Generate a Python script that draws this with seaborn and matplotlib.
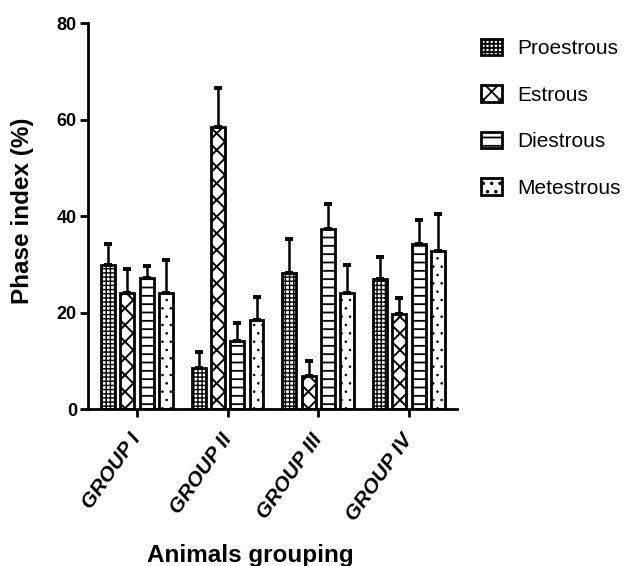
import pandas as pd
import matplotlib
matplotlib.use('Agg')
import matplotlib.pyplot as plt
import seaborn as sns

# Values (mean and upper error, %)
groups = ['GROUP I', 'GROUP II', 'GROUP III', 'GROUP IV']
phases = ['Proestrous', 'Estrous', 'Diestrous', 'Metestrous']
proestrous = [29.8, 8.5, 28.3, 26.9]
estrous = [24.1, 58.4, 6.9, 19.8]
diestrous = [27.1, 14.1, 37.4, 34.2]
metestrous = [24.1, 18.4, 24.1, 32.8]
proestrous_err = [4.4, 3.4, 6.9, 4.7]
estrous_err = [4.9, 8.1, 3.1, 3.3]
diestrous_err = [2.5, 3.8, 5.2, 5.1]
metestrous_err = [6.8, 4.9, 5.7, 7.6]

means = [proestrous, estrous, diestrous, metestrous]
errs = [proestrous_err, estrous_err, diestrous_err, metestrous_err]
hatches = ['++++', 'xx', '--', '..']
hatch_lw = [1.0, 1.4, 1.3, 0.6]

rows = []
for p, vals in zip(phases, means):
    for g, v in zip(groups, vals):
        rows.append({'group': g, 'phase': p, 'value': v})
df = pd.DataFrame(rows)

sns.set_style('ticks')
plt.rcParams['font.family'] = ['Liberation Sans', 'DejaVu Sans']
plt.rcParams['hatch.linewidth'] = 1.3
plt.rcParams['hatch.color'] = 'black'
for k in ['text.color', 'axes.labelcolor', 'xtick.color', 'ytick.color', 'axes.edgecolor']:
    plt.rcParams[k] = 'black'

fig = plt.figure(figsize=(6.33, 5.66), dpi=100)
ax = fig.add_axes([0.139, 0.277, 0.583, 0.682])

sns.barplot(data=df, x='group', y='value', hue='phase', hue_order=phases,
            palette=['white'] * 4, edgecolor='black', linewidth=2,
            width=0.85, gap=0.28, errorbar=None, legend=False, ax=ax)

for cont, h, hl, e in zip(ax.containers, hatches, hatch_lw, errs):
    xs, ys = [], []
    for bar in cont:
        bar.set_hatch(h)
        if hasattr(bar, 'set_hatch_linewidth'):
            bar.set_hatch_linewidth(hl)
        xs.append(bar.get_x() + bar.get_width() / 2)
        ys.append(bar.get_height())
    ax.errorbar(xs, ys, yerr=[[0] * len(e), e], fmt='none', ecolor='black',
                elinewidth=1.8, capsize=2.9, capthick=2.8, zorder=1)

ax.set_ylim(0, 80)
ax.set_yticks([0, 20, 40, 60, 80])
ax.set_xlim(-0.54, 3.53)
sns.despine(ax=ax)
for s in ['left', 'bottom']:
    ax.spines[s].set_linewidth(2)
ax.tick_params(axis='both', width=2, length=6, pad=2)
ax.tick_params(axis='x', pad=13)
ax.tick_params(axis='y', labelsize=13)
for lab in ax.get_yticklabels():
    lab.set_fontweight('bold')
ax.set_xticks(range(len(groups)))
ax.set_xticklabels(groups, rotation=55, ha='right', va='center',
                   rotation_mode='anchor', fontsize=15, fontweight='bold',
                   fontstyle='italic')

ax.set_ylabel('Phase index (%)', fontsize=17.5, fontweight='bold')
ax.yaxis.set_label_coords(-0.145, 0.515)
ax.set_xlabel('Animals grouping', fontsize=17.5, fontweight='bold')
ax.xaxis.set_label_coords(0.44, -0.35)

handles = [cont[0] for cont in ax.containers]
leg = ax.legend(handles, phases, loc='upper left', bbox_to_anchor=(1.065, 0.96),
                frameon=False, fontsize=15, handlelength=1.0, handleheight=0.85,
                labelspacing=1.3, handletextpad=0.75, borderpad=0,
                borderaxespad=0)

fig.savefig('out.png', dpi=100)
